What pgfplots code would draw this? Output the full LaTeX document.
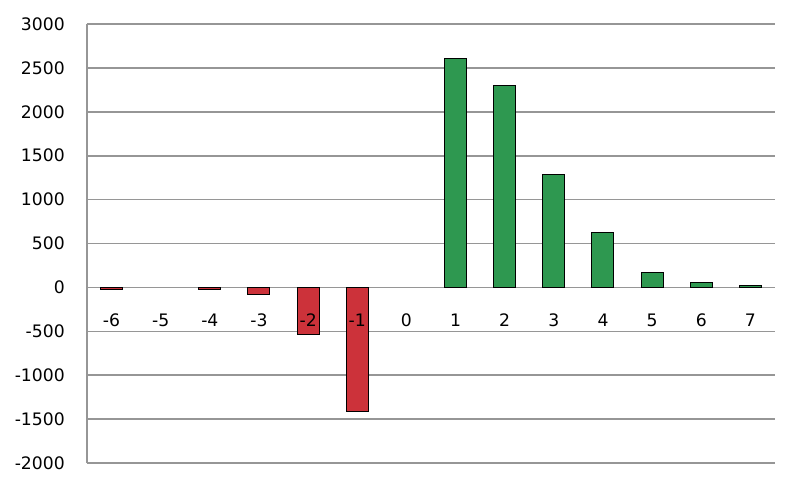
\documentclass[border=0pt]{standalone}
\usepackage{fontspec}
\setmainfont{DejaVu Sans}
\usepackage{pgfplots}
\pgfplotsset{compat=1.18}
\definecolor{barred}{RGB}{204,50,58}
\definecolor{bargreen}{RGB}{46,152,80}
\definecolor{gridgray}{RGB}{150,150,150}
% tick labels above the bars, grid below
\pgfplotsset{
  layers/labels on top/.define layer set={
    axis background,axis grid,axis ticks,axis lines,main,
    axis tick labels,axis descriptions,axis foreground
  }{/pgfplots/layers/standard},
}
\begin{document}
\begin{tikzpicture}
\begin{axis}[
  set layers=labels on top,
  scale only axis,
  width=344pt, height=219.5pt,
  xmin=-6.5, xmax=7.5,
  ymin=-2000, ymax=3000,
  ytick={-2000,-1500,...,3000},
  xtick={-6,...,7},
  axis x line=middle,
  axis y line=left,
  axis line style={-, draw=gridgray, line width=0.8pt},
  ymajorgrids,
  grid style={draw=gridgray, line width=0.8pt},
  major tick length=0pt,
  tick label style={font=\fontsize{8.6}{10}\selectfont},
  /pgf/number format/assume math mode=true,
  /pgf/number format/1000 sep={},
  yticklabel style={xshift=-7.6pt},
  xticklabel style={yshift=-9.6pt},
  clip=false,
]
\addplot[ybar, bar width=11pt, bar shift=0pt, fill=barred, draw=black, line width=0.5pt]
  coordinates {(-6,-25) (-4,-25) (-3,-80) (-2,-535) (-1,-1410)};
\addplot[ybar, bar width=11pt, bar shift=0pt, fill=bargreen, draw=black, line width=0.5pt]
  coordinates {(1,2608) (2,2304) (3,1287) (4,623) (5,167) (6,53) (7,20)};
\end{axis}
\pgfresetboundingbox
\path[use as bounding box] (-43.5pt,-13pt) rectangle (356.5pt,231.5pt);
\end{tikzpicture}
\end{document}
